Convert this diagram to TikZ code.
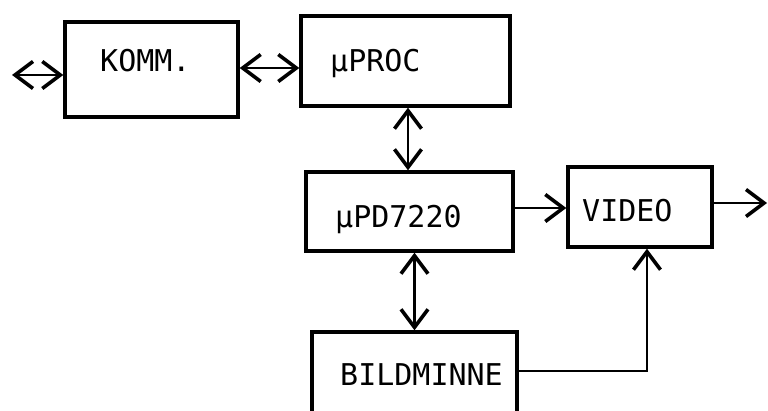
\documentclass[tikz,border=0pt]{standalone}
\usepackage{fontspec}
\newfontfamily\monofam{DejaVu Sans Mono}
\usetikzlibrary{arrows.meta}
\begin{document}
\begin{tikzpicture}[x=1pt,y=1pt,
  blk/.style={draw=black,line width=3.4pt,minimum width=#1,inner sep=0pt},
  txt/.style={anchor=base west,inner sep=0pt,font=\monofam\fontsize{30}{30}\selectfont},
  dbl/.style={line width=2.3pt,{Straight Barb[length=18pt,width=27pt,line width=3.6pt]}-{Straight Barb[length=18pt,width=27pt,line width=3.6pt]}},
  sgl/.style={line width=2.3pt,-{Straight Barb[length=18pt,width=27pt,line width=3.6pt]}}]
\useasboundingbox[fill=white] (0,0) rectangle (768,-411);
% boxes
\node[blk=173pt,minimum height=95pt] (komm) at (151.5,-69.5) {};
\node[blk=209pt,minimum height=90pt] (uproc) at (405.5,-61) {};
\node[blk=207pt,minimum height=79pt] (upd) at (409.5,-211.5) {};
\node[blk=144pt,minimum height=80pt] (video) at (640,-207) {};
\node[blk=205pt,minimum height=98pt] (bild) at (414.5,-381) {};
% texts
\node[txt] (tkomm) at (100,-72) {KOMM.};
\node[txt] (tuproc) at (330,-72) {µPROC};
\node[txt] (tupd) at (335,-228) {µPD7220};
\node[txt] (tvideo) at (582,-222) {VIDEO};
\node[txt] (tbild) at (340,-385) {BILDMINNE};
% free ends
\coordinate (ext) at (12,-75);
\coordinate (out) at (767,-203);
% connectors
\draw[dbl] (ext) -- (ext -| komm.west);
\draw[dbl] ([yshift=1.5pt]komm.east) -- ([yshift=1.5pt]komm.east -| uproc.west);
\draw[dbl] ([xshift=2.5pt]uproc.south) -- ([xshift=2.5pt]uproc.south |- upd.north);
\draw[dbl] (bild.north) -- (bild.north |- upd.south);
\draw[sgl] ([yshift=3.5pt]upd.east) -- ([yshift=3.5pt]upd.east -| video.west);
\draw[sgl] ([yshift=4pt]video.east) -- (out);
\draw[sgl] ([yshift=10pt]bild.east) -| ([xshift=7pt]video.south);
\end{tikzpicture}
\end{document}
